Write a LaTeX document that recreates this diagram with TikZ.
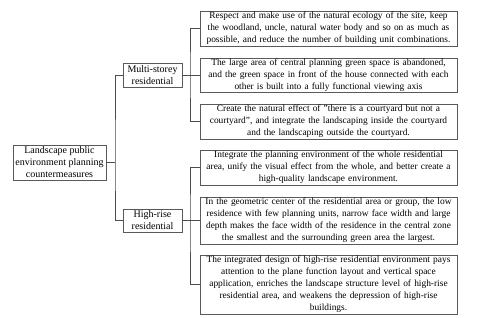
\documentclass[tikz,border=0pt]{standalone}
\usepackage{fontspec}
\setmainfont{Liberation Serif}
\usetikzlibrary{shadows}
\begin{document}
\begin{tikzpicture}[x=1pt,y=-1pt,
  box/.style={draw=black!65, fill=white, line width=0.7pt, inner sep=0pt, align=center,
    font=\fontsize{10}{12}\selectfont,
    drop shadow={shadow xshift=0.9pt, shadow yshift=-0.9pt, fill=black!30, opacity=1}},
  rbox/.style={box, minimum width=257pt, text width=255pt,
    font=\fontsize{9.4}{12}\selectfont},
  conn/.style={draw=black!70, line width=0.6pt}]
\fill[white] (0,0) rectangle (480,317);
\useasboundingbox (0,0) rectangle (480,317);
\coordinate (j1) at (115,162.5);
\coordinate (j2) at (190,75);
\coordinate (j3) at (190,220.5);
\node[box, minimum width=93pt, minimum height=35pt] (root) at (59.5,162.5)
  {Landscape public\\environment planning\\countermeasures};
\node[box, minimum width=59pt, minimum height=24pt] (multi) at (152.5,75)
  {Multi-storey\\residential};
\node[box, minimum width=59pt, minimum height=23pt] (high) at (152.5,220.5)
  {High-rise\\residential};
\node[rbox, minimum height=35pt] (b1) at (328.5,28.5)
  {Respect and make use of the natural ecology of the site, keep\\the woodland, uncle, natural water body and so on as much as\\possible, and reduce the number of building unit combinations.};
\node[rbox, minimum height=34pt] (b2) at (328.5,75)
  {The large area of central planning green space is abandoned,\\and the green space in front of the house connected with each\\other is built into a fully functional viewing axis};
\node[rbox, minimum height=35pt] (b3) at (328.5,121.5)
  {Create the natural effect of "there is a courtyard but not a\\courtyard", and integrate the landscaping inside the courtyard\\and the landscaping outside the courtyard.};
\node[rbox, minimum height=35pt] (b4) at (328.5,167.5)
  {Integrate the planning environment of the whole residential\\area, unify the visual effect from the whole, and better create a\\high-quality landscape environment.};
\node[rbox, minimum height=47pt] (b5) at (328.5,220.5)
  {In the geometric center of the residential area or group, the low\\residence with few planning units, narrow face width and large\\depth makes the face width of the residence in the central zone\\the smallest and the surrounding green area the largest.};
\node[rbox, minimum height=59pt] (b6) at (328.5,284.5)
  {The integrated design of high-rise residential environment pays\\attention to the plane function layout and vertical space\\application, enriches the landscape structure level of high-rise\\residential area, and weakens the depression of high-rise\\buildings.};
\draw[conn] (root.east) -- (j1);
\draw[conn] (multi.west) -| (j1) |- (high.west);
\draw[conn] (multi.east) -- (b2.west);
\draw[conn] (b1.west) -| (j2) |- (b3.west);
\draw[conn] (high.east) -- (b5.west);
\draw[conn] (b4.west) -| (j3) |- (b6.west);
\end{tikzpicture}
\end{document}
